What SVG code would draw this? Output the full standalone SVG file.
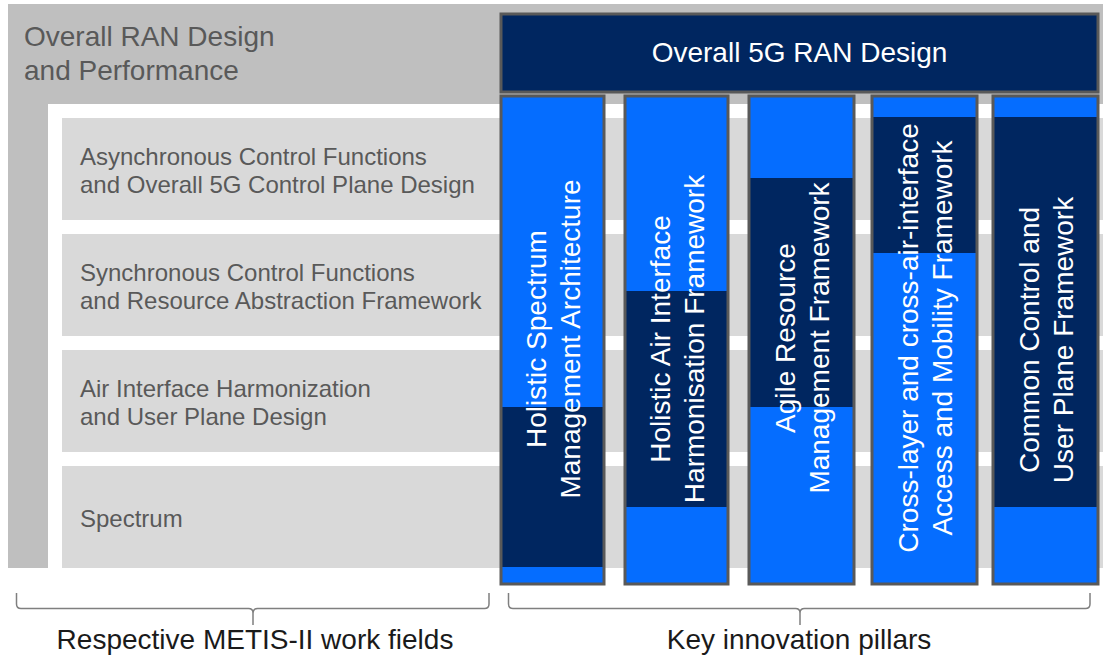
<svg xmlns="http://www.w3.org/2000/svg" width="1103" height="655" viewBox="0 0 1103 655">
<style>
.t{font-family:"Liberation Sans",Arial,sans-serif}
.ttl{font-size:28px;fill:#595959}
.row{fill:#d9d9d9}
.rt{font-size:24px;fill:#595959}
.lb{fill:#056dff}
.dk{fill:#002660}
.frame{fill:none;stroke:#595959;stroke-width:3}
.pt{font-size:28px;fill:#ffffff;text-anchor:middle}
.brace{fill:none;stroke:#7f7f7f;stroke-width:1.5}
.bt{font-size:28px;fill:#1a1a1a;text-anchor:middle}
</style>
<rect width="1103" height="655" fill="#ffffff"/>
<g id="background">
<rect x="8" y="4" width="1095" height="564" fill="#bfbfbf"/>
<rect x="48" y="104" width="1055" height="464" fill="#ffffff"/>
<text class="t ttl" x="24" y="46">Overall RAN Design</text>
<text class="t ttl" x="24" y="80">and Performance</text>
</g>
<g id="row1"><rect class="row" x="62" y="118" width="1041" height="102"/>
<text class="t rt" x="80" y="165">Asynchronous Control Functions</text>
<text class="t rt" x="80" y="193">and Overall 5G Control Plane Design</text></g>
<g id="row2"><rect class="row" x="62" y="234" width="1041" height="102"/>
<text class="t rt" x="80" y="281">Synchronous Control Functions</text>
<text class="t rt" x="80" y="309">and Resource Abstraction Framework</text></g>
<g id="row3"><rect class="row" x="62" y="350" width="1041" height="102"/>
<text class="t rt" x="80" y="397">Air Interface Harmonization</text>
<text class="t rt" x="80" y="425">and User Plane Design</text></g>
<g id="row4"><rect class="row" x="62" y="466" width="1041" height="102"/>
<text class="t rt" x="80" y="527">Spectrum</text></g>
<g id="top-box">
<rect class="dk" x="501" y="14" width="597" height="78"/>
<rect class="frame" x="501" y="14" width="597" height="78"/>
<text class="t pt" x="799.5" y="62">Overall 5G RAN Design</text>
</g>
<g id="pillar1">
<rect class="lb" x="501" y="96" width="103" height="488"/>
<rect class="dk" x="501" y="407" width="103" height="160"/>
<rect class="frame" x="501" y="96" width="103" height="488"/>
<text class="t pt" transform="translate(545.5 339) rotate(-90)"><tspan x="0" y="0">Holistic Spectrum</tspan><tspan x="0" y="34">Management Architecture</tspan></text>
</g>
<g id="pillar2">
<rect class="lb" x="625" y="96" width="103" height="488"/>
<rect class="dk" x="625" y="291" width="103" height="216"/>
<rect class="frame" x="625" y="96" width="103" height="488"/>
<text class="t pt" transform="translate(669.5 339) rotate(-90)"><tspan x="0" y="0">Holistic Air Interface</tspan><tspan x="0" y="34">Harmonisation Framework</tspan></text>
</g>
<g id="pillar3">
<rect class="lb" x="749" y="96" width="105" height="488"/>
<rect class="dk" x="749" y="178" width="105" height="229"/>
<rect class="frame" x="749" y="96" width="105" height="488"/>
<text class="t pt" transform="translate(794.5 338) rotate(-90)"><tspan x="0" y="0">Agile Resource</tspan><tspan x="0" y="34">Management Framework</tspan></text>
</g>
<g id="pillar4">
<rect class="lb" x="872" y="96" width="105" height="488"/>
<rect class="dk" x="872" y="117" width="105" height="136"/>
<rect class="frame" x="872" y="96" width="105" height="488"/>
<text class="t pt" transform="translate(917.5 338) rotate(-90)"><tspan x="0" y="0">Cross-layer and cross-air-interface</tspan><tspan x="0" y="34">Access and Mobility Framework</tspan></text>
</g>
<g id="pillar5">
<rect class="lb" x="993" y="96" width="105" height="488"/>
<rect class="dk" x="993" y="117" width="105" height="390"/>
<rect class="frame" x="993" y="96" width="105" height="488"/>
<text class="t pt" transform="translate(1038.5 340) rotate(-90)"><tspan x="0" y="0">Common Control and</tspan><tspan x="0" y="34">User Plane Framework</tspan></text>
</g>
<g id="connectors">
<path class="brace" d="M16.5,593 V604 Q16.5,608.5 21,608.5 H248.5 Q253,608.5 253,613 V625 M253,613 Q253,608.5 257.5,608.5 H484.5 Q489,608.5 489,604 V593"/>
<path class="brace" d="M508.5,593 V604 Q508.5,608.5 513,608.5 H795.5 Q800,608.5 800,613 V625 M800,613 Q800,608.5 804.5,608.5 H1085.5 Q1090,608.5 1090,604 V593"/>
</g>
<g id="labels">
<text class="t bt" x="255" y="649">Respective METIS-II work fields</text>
<text class="t bt" x="799" y="649">Key innovation pillars</text>
</g>
</svg>
